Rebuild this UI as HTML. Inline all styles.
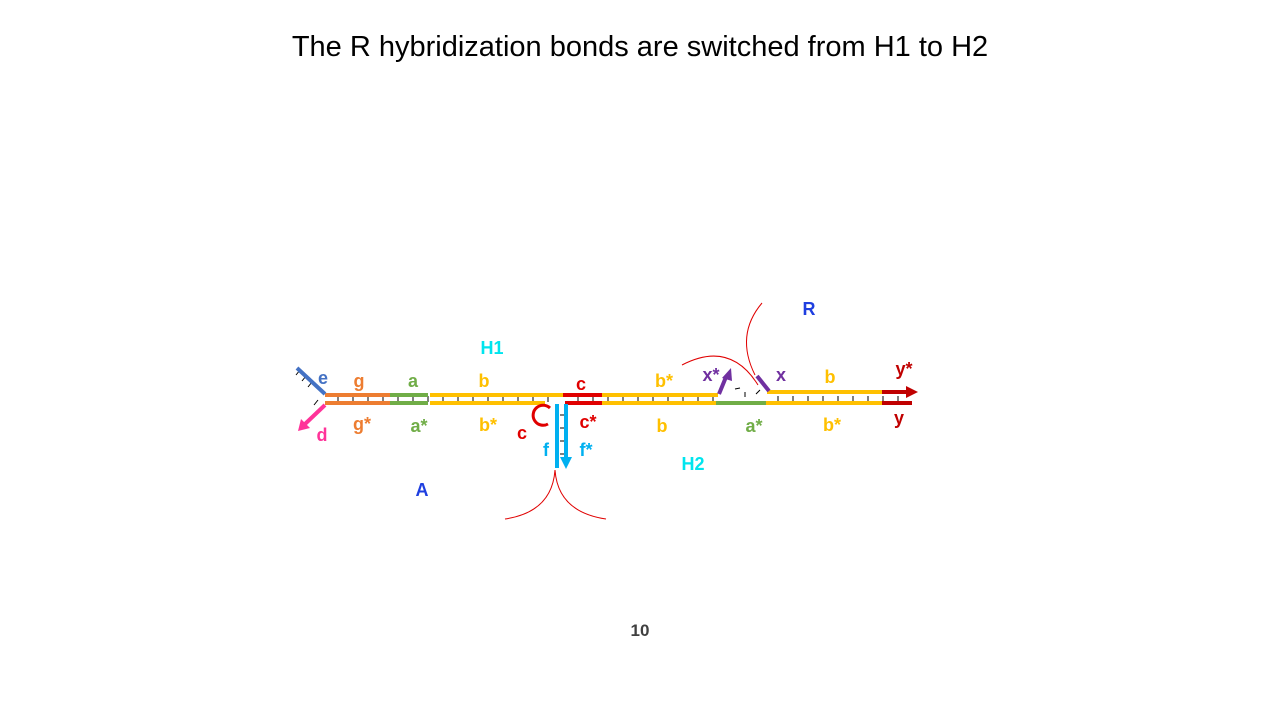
<!DOCTYPE html>
<html><head><meta charset="utf-8"><style>
html,body{margin:0;padding:0;background:#fff}
svg{display:block}
text{font-family:"Liberation Sans",sans-serif}
.l{font-weight:bold;font-size:18px;text-anchor:middle}
</style></head><body>
<svg width="1280" height="720" viewBox="0 0 1280 720">
<text x="640" y="56" font-size="29" text-anchor="middle" fill="#000">The R hybridization bonds are switched from H1 to H2</text>
<g stroke="#000" stroke-width="1">
<path d="M338 396v6M353 396v6M368 396v6M383 396v6M398 396v6M413 396v6M428 396v6M443 396v6M458 396v6M473 396v6M488 396v6M503 396v6M518 396v6M533 396v6M548 396v6M578 396v6M593 396v6M608 396v6M623 396v6M638 396v6M653 396v6M668 396v6M683 396v6M698 396v6M713 396v6M778 396v6M793 396v6M808 396v6M823 396v6M838 396v6M853 396v6M868 396v6M883 396v6M898 396v6"/>
<path d="M560 415h5M560 428h5M560 441h5M560 454h5"/>
<path d="M300 370l-4 5M306 376l-4 5M312 382l-4 5M318 400l-4 5M735 389l5-1M745 392v5M760 390l-4 4"/>
</g>
<g stroke-width="4" fill="none">
<line x1="325" y1="395" x2="390" y2="395" stroke="#ed7d31"/>
<line x1="390" y1="395" x2="428" y2="395" stroke="#70ad47"/>
<line x1="430" y1="395" x2="563" y2="395" stroke="#ffc000"/>
<line x1="563" y1="395" x2="602" y2="395" stroke="#e00000"/>
<line x1="602" y1="395" x2="718" y2="395" stroke="#ffc000"/>
<line x1="767" y1="392" x2="882" y2="392" stroke="#ffc000"/>
<line x1="882" y1="392" x2="908" y2="392" stroke="#c00000"/>
<path d="M906 386l12 6-12 6z" fill="#c00000" stroke="none"/>
</g>
<g stroke-width="4" fill="none">
<line x1="325" y1="403" x2="390" y2="403" stroke="#ed7d31"/>
<line x1="390" y1="403" x2="428" y2="403" stroke="#70ad47"/>
<line x1="430" y1="403" x2="545" y2="403" stroke="#ffc000"/>
<line x1="565" y1="403" x2="602" y2="403" stroke="#e00000"/>
<line x1="602" y1="403" x2="716" y2="403" stroke="#ffc000"/>
<line x1="716" y1="403" x2="766" y2="403" stroke="#70ad47"/>
<line x1="766" y1="403" x2="882" y2="403" stroke="#ffc000"/>
<line x1="882" y1="403" x2="912" y2="403" stroke="#c00000"/>
</g>
<g fill="none">
<line x1="297" y1="368" x2="325" y2="394" stroke="#4472c4" stroke-width="4"/>
<line x1="325" y1="405" x2="305" y2="424" stroke="#ff3399" stroke-width="4"/>
<path d="M298 431l3-12 9 9z" fill="#ff3399"/>
<line x1="557" y1="404" x2="557" y2="468" stroke="#00b0f0" stroke-width="4"/>
<line x1="566" y1="404" x2="566" y2="458" stroke="#00b0f0" stroke-width="4"/>
<path d="M560 457h12l-6 12z" fill="#00b0f0"/>
<path d="M550 408 A10 10 0 1 0 548 424" stroke="#e00000" stroke-width="3"/>
<line x1="719" y1="394" x2="726" y2="377" stroke="#7030a0" stroke-width="4"/>
<path d="M722 378l9-10 1 13z" fill="#7030a0"/>
<line x1="757" y1="376" x2="769" y2="391" stroke="#7030a0" stroke-width="4"/>
</g>
<g fill="none" stroke="#e00000" stroke-width="1">
<path d="M555 470 Q552 512 505 519"/>
<path d="M555 470 Q558 512 606 519"/>
<path d="M762 303 Q735 335 755 375"/>
<path d="M682 365 Q730 340 758 385"/>
</g>
<g>
<text class="l" x="492" y="354" fill="#00e5ee">H1</text>
<text class="l" x="809" y="315" fill="#1f3fe0">R</text>
<text class="l" x="693" y="470" fill="#00e5ee">H2</text>
<text class="l" x="422" y="496" fill="#1f3fe0">A</text>
<text class="l" x="323" y="384" fill="#4472c4">e</text>
<text class="l" x="359" y="387" fill="#ed7d31">g</text>
<text class="l" x="413" y="387" fill="#70ad47">a</text>
<text class="l" x="484" y="387" fill="#ffc000">b</text>
<text class="l" x="581" y="390" fill="#e00000">c</text>
<text class="l" x="664" y="387" fill="#ffc000">b*</text>
<text class="l" x="711" y="381" fill="#7030a0">x*</text>
<text class="l" x="781" y="381" fill="#7030a0">x</text>
<text class="l" x="830" y="383" fill="#ffc000">b</text>
<text class="l" x="904" y="375" fill="#c00000">y*</text>
<text class="l" x="322" y="441" fill="#ff3399">d</text>
<text class="l" x="362" y="430" fill="#ed7d31">g*</text>
<text class="l" x="419" y="432" fill="#70ad47">a*</text>
<text class="l" x="488" y="431" fill="#ffc000">b*</text>
<text class="l" x="522" y="439" fill="#e00000">c</text>
<text class="l" x="588" y="428" fill="#e00000">c*</text>
<text class="l" x="546" y="456" fill="#00b0f0">f</text>
<text class="l" x="586" y="456" fill="#00b0f0">f*</text>
<text class="l" x="662" y="432" fill="#ffc000">b</text>
<text class="l" x="754" y="432" fill="#70ad47">a*</text>
<text class="l" x="832" y="431" fill="#ffc000">b*</text>
<text class="l" x="899" y="424" fill="#c00000">y</text>
</g>
<text x="640" y="636" font-size="17" font-weight="bold" fill="#404040" text-anchor="middle">10</text>
</svg>
</body></html>
